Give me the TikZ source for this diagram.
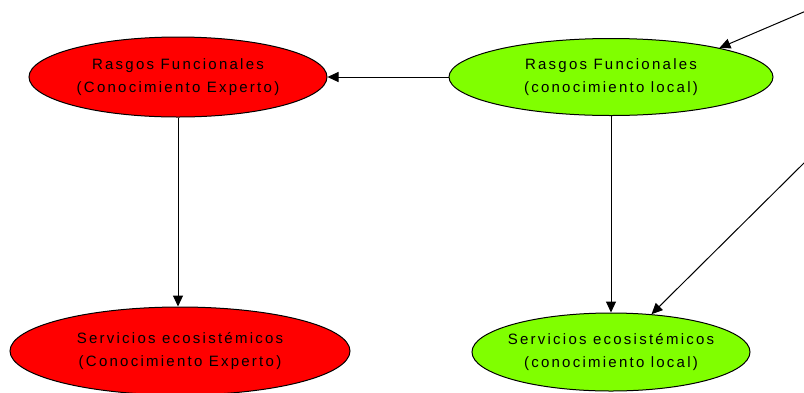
\documentclass[tikz,border=0pt]{standalone}
\usepackage{fontspec}
\setmainfont{Liberation Sans}
\newfontfamily\nodefont[LetterSpace=15]{Liberation Sans}
\usetikzlibrary{shapes.geometric,arrows.meta}
\definecolor{limeGreen}{RGB}{128,255,0}

\begin{document}
\begin{tikzpicture}[
    x=1pt, y=-1pt,
    every node/.style={font=\nodefont\fontsize{15}{23}\selectfont},
    expert/.style={ellipse, draw, fill=red, line width=1pt, inner sep=0pt},
    local/.style={ellipse, draw, fill=limeGreen, line width=1pt, inner sep=0pt},
    caption/.style={align=center, text=black, inner sep=0pt},
    arrow/.style={-{Triangle[length=11pt,width=10pt]}, line width=1pt}
]
    \useasboundingbox (0,0) rectangle (804,392);

% -------------------------
% Expert knowledge (left)
% -------------------------
    \node[expert, minimum width=298pt, minimum height=80pt,
          label={[caption]center:{Rasgos Funcionales\\(Conocimiento Experto)}}] (rfExp) at (178,77) {};
    \node[expert, minimum width=340pt, minimum height=88pt,
          label={[caption]center:{Servicios ecosistémicos\\(Conocimiento Experto)}}] (seExp) at (180,351) {};

% -------------------------
% Local knowledge (right)
% -------------------------
    \node[local, minimum width=324pt, minimum height=77pt,
          label={[caption]center:{Rasgos Funcionales\\(conocimiento local)}}] (rfLoc) at (611,77) {};
    \node[local, minimum width=278pt, minimum height=78pt,
          label={[caption]center:{Servicios ecosistémicos\\(conocimiento local)}}] (seLoc) at (611,352) {};

    % free ends coming from outside the picture
    \coordinate (inTop) at (806,11);
    \coordinate (inLow) at (806,161);

% -------------------------
% Arrows
% -------------------------
    \draw[arrow] (rfLoc.west) -- (rfExp.east);
    \draw[arrow] (rfExp.south) -- (rfExp.south |- seExp.north);
    \draw[arrow] (rfLoc.south) -- (seLoc.north);
    \draw[arrow] (inTop) -- (rfLoc.15);
    \draw[arrow] (inLow) -- (seLoc.43);
\end{tikzpicture}
\end{document}
